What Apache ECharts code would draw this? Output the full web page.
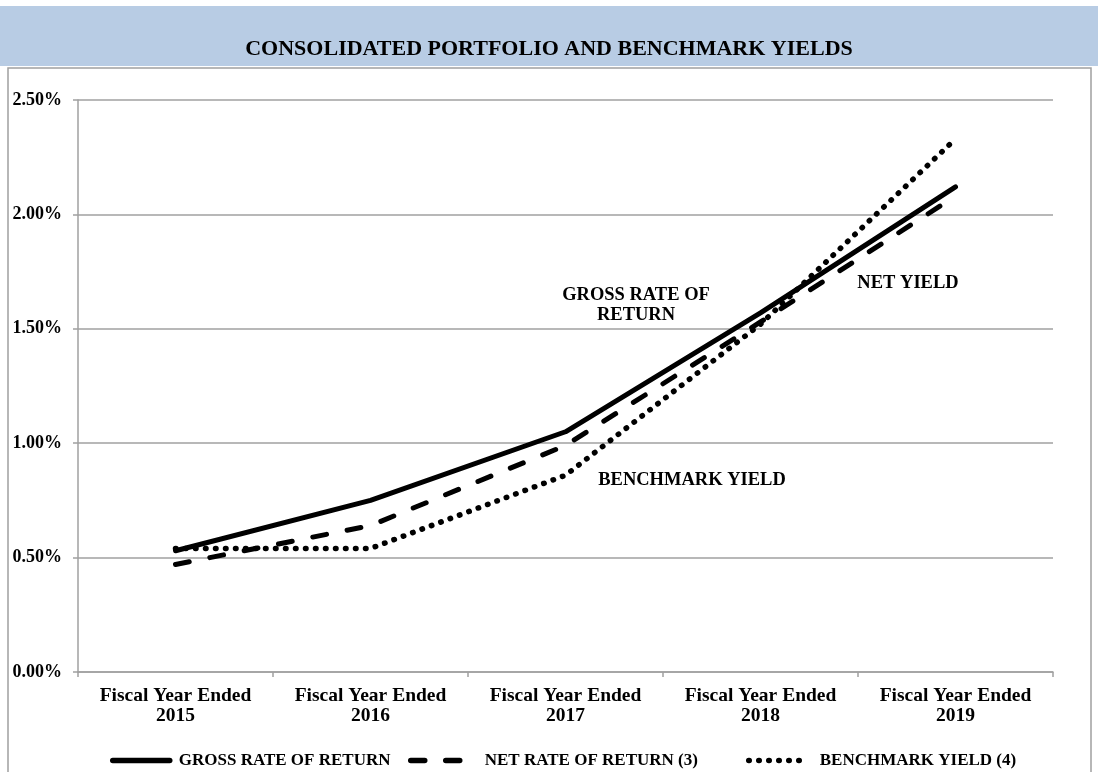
<!DOCTYPE html>
<html>
<head>
<meta charset="utf-8">
<script src="https://cdn.jsdelivr.net/npm/echarts@6/dist/echarts.min.js"></script>
<style>
  html, body { margin: 0; padding: 0; background: #fff; }
  #chart { width: 1098px; height: 772px; }
</style>
</head>
<body>
<div id="chart"></div>
<script>
const categories = [
  'Fiscal Year Ended\n2015',
  'Fiscal Year Ended\n2016',
  'Fiscal Year Ended\n2017',
  'Fiscal Year Ended\n2018',
  'Fiscal Year Ended\n2019'
];
const seriesNames = ['GROSS RATE OF RETURN', 'NET RATE OF RETURN (3)', 'BENCHMARK YIELD (4)'];
const grossRate = [0.53, 0.75, 1.05, 1.57, 2.12];
const netRate = [0.47, 0.64, 0.99, 1.53, 2.08];
const benchmarkYield = [0.54, 0.54, 0.86, 1.52, 2.33];
const yMin = 0, yMax = 2.5, yInterval = 0.5;

const FONT = '"Liberation Serif", "Times New Roman", serif';
const GREY = '#a0a0a0';

const legendLefts = [105, 403, 741];
const legendTextPad = [4, 12, 9];
const makeLegend = (name, i) => ({
  left: legendLefts[i],
  top: 747,
  itemWidth: 57,
  itemHeight: 16,
  data: [name],
  itemStyle: { color: 'rgba(0,0,0,0)', borderWidth: 0, opacity: 0 },
  lineStyle: { width: 5.5 },
  textStyle: { fontFamily: FONT, fontWeight: 'bold', fontSize: 17, color: '#000', padding: [0, 0, 0, legendTextPad[i]] }
});

const chart = echarts.init(document.getElementById('chart'), null, { renderer: 'canvas' });

chart.setOption({
  animation: false,
  backgroundColor: '#fff',
  title: {
    text: 'CONSOLIDATED PORTFOLIO AND BENCHMARK YIELDS',
    left: 'center',
    top: 33,
    textStyle: { fontFamily: FONT, fontWeight: 'bold', fontSize: 22, color: '#000' }
  },
  graphic: [
    { type: 'rect', z: -10, shape: { x: 0, y: 6, width: 1098, height: 60 }, style: { fill: '#b8cce4' } },
    { type: 'rect', z: -10, shape: { x: 8, y: 68, width: 1083, height: 720 }, style: { fill: 'none', stroke: GREY, lineWidth: 1.5 } },
    { type: 'text', x: 636, y: 305, style: { text: 'GROSS RATE OF\nRETURN', font: 'bold 18.5px ' + FONT, fill: '#000', align: 'center', verticalAlign: 'middle', lineHeight: 20 } },
    { type: 'text', x: 692, y: 480, style: { text: 'BENCHMARK YIELD', font: 'bold 18.5px ' + FONT, fill: '#000', align: 'center', verticalAlign: 'middle' } },
    { type: 'text', x: 908, y: 283, style: { text: 'NET YIELD', font: 'bold 18.5px ' + FONT, fill: '#000', align: 'center', verticalAlign: 'middle' } }
  ],
  legend: seriesNames.map((n, i) => makeLegend(n, i)),
  grid: { left: 78, right: 45, top: 100, bottom: 100, containLabel: false },
  xAxis: {
    type: 'category',
    data: categories,
    boundaryGap: true,
    axisLine: { show: true, lineStyle: { color: GREY, width: 1.5 } },
    axisTick: { show: true, length: 5, alignWithLabel: false, lineStyle: { color: GREY, width: 1.5 } },
    axisLabel: { margin: 14, fontFamily: FONT, fontWeight: 'bold', fontSize: 19.5, color: '#000', lineHeight: 20, interval: 0 }
  },
  yAxis: {
    type: 'value',
    min: yMin,
    max: yMax,
    interval: yInterval,
    axisLine: { show: true, lineStyle: { color: GREY, width: 1.5 } },
    axisTick: { show: true, length: 5, lineStyle: { color: GREY, width: 1.5 } },
    splitLine: { show: true, lineStyle: { color: GREY, width: 1.5 } },
    axisLabel: {
      margin: 16,
      fontFamily: FONT, fontWeight: 'bold', fontSize: 18, color: '#000',
      formatter: v => v.toFixed(2) + '%'
    }
  },
  series: [
    {
      name: seriesNames[0], type: 'line', data: grossRate, symbol: 'none',
      lineStyle: { color: '#000', width: 5, cap: 'round', join: 'round' },
      itemStyle: { color: '#000' }
    },
    {
      name: seriesNames[1], type: 'line', data: netRate, symbol: 'none',
      lineStyle: { color: '#000', width: 5, type: [14, 21], cap: 'round', join: 'round' },
      itemStyle: { color: '#000' }
    },
    {
      name: seriesNames[2], type: 'line', data: benchmarkYield, symbol: 'none',
      lineStyle: { color: '#000', width: 5.5, type: [0.5, 9.5], cap: 'round', join: 'round' },
      itemStyle: { color: '#000' }
    }
  ]
});
</script>
</body>
</html>
